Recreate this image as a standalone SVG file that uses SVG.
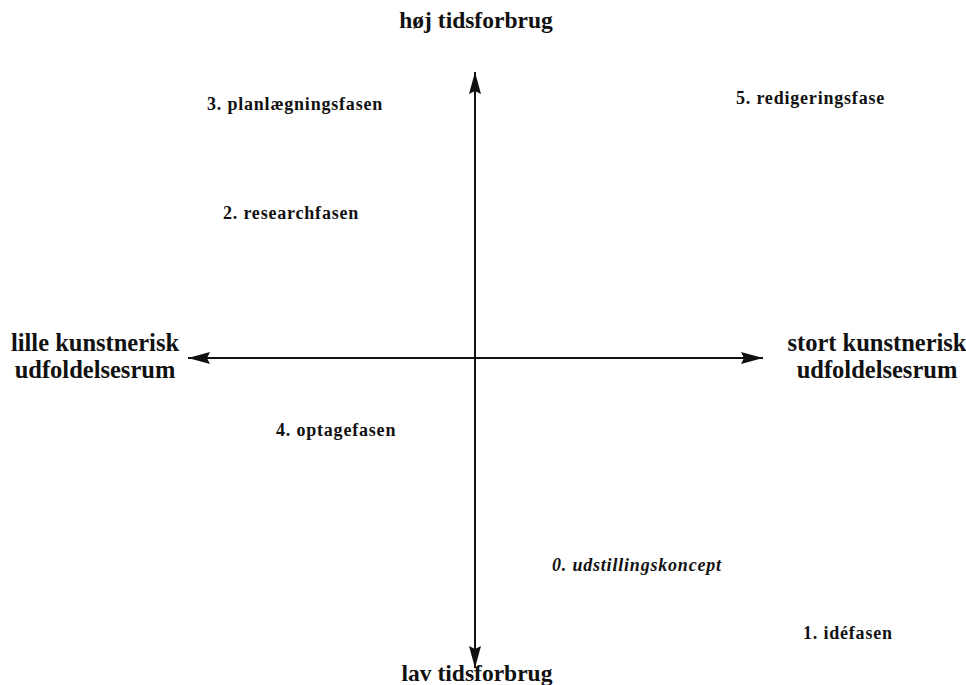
<svg xmlns="http://www.w3.org/2000/svg" width="966" height="685" viewBox="0 0 966 685">
<style>
text{font-family:"Liberation Serif","Tinos","DejaVu Serif","Noto Serif",serif;font-weight:bold;fill:#111}
.big{font-size:24.5px}
.ax{font-size:23.5px}
.ph{font-size:18px;letter-spacing:0.8px}
.it{font-style:italic}
.line{stroke:#111;stroke-width:2;fill:none}
</style>
<defs>
<marker id="ah2" viewBox="0 0 22 14" refX="22" refY="7" markerWidth="22" markerHeight="14" markerUnits="userSpaceOnUse" orient="auto">
<path d="M0,1 L22,7 L0,13 L3,7 Z" fill="#111"/>
</marker>
</defs>
<g id="connectors">
<line class="line" x1="475" y1="358" x2="475" y2="72" marker-end="url(#ah2)"/>
<line class="line" x1="475" y1="358" x2="475" y2="668" marker-end="url(#ah2)"/>
<line class="line" x1="475" y1="358" x2="188" y2="358" marker-end="url(#ah2)"/>
<line class="line" x1="475" y1="358" x2="763" y2="358" marker-end="url(#ah2)"/>
</g>
<g id="top"><text class="ax" x="476" y="28" text-anchor="middle">høj tidsforbrug</text></g>
<g id="bottom"><text class="ax" x="477" y="681" text-anchor="middle">lav tidsforbrug</text></g>
<g id="left"><text class="big" x="95" y="351" text-anchor="middle">lille kunstnerisk</text><text class="big" x="95" y="378" text-anchor="middle">udfoldelsesrum</text></g>
<g id="right"><text class="big" x="877" y="351" text-anchor="middle">stort kunstnerisk</text><text class="big" x="877" y="378" text-anchor="middle">udfoldelsesrum</text></g>
<g id="p3"><text class="ph" x="207" y="110">3. planlægningsfasen</text></g>
<g id="p2"><text class="ph" x="223" y="219">2. researchfasen</text></g>
<g id="p5"><text class="ph" x="736" y="104">5. redigeringsfase</text></g>
<g id="p4"><text class="ph" x="276" y="436">4. optagefasen</text></g>
<g id="p0"><text class="ph it" x="552" y="571">0. udstillingskoncept</text></g>
<g id="p1"><text class="ph" x="803" y="639">1. idéfasen</text></g>
</svg>
